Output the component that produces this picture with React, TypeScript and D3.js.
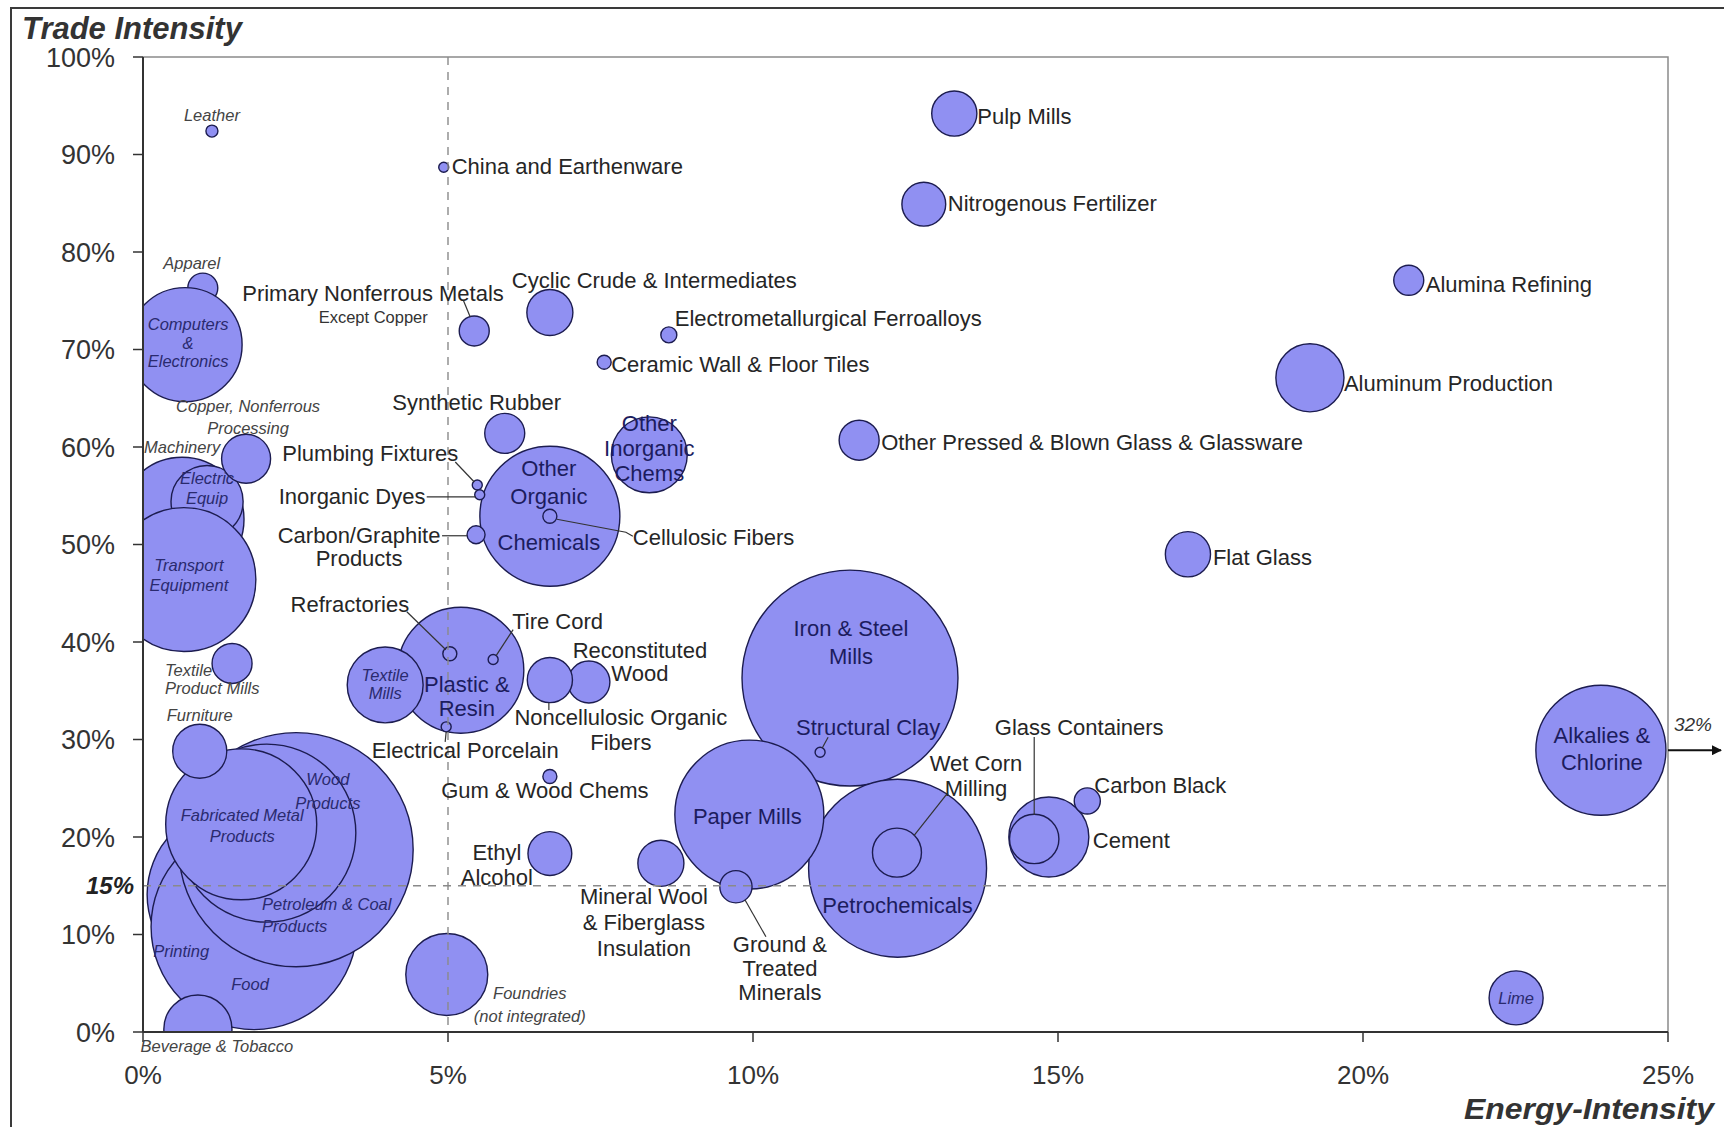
import React from 'react';
import * as d3 from 'd3';

// drawing order (back to front)
const names = [
  'Iron & Steel Mills', 'Printing', 'Food', 'Petroleum & Coal Products', 'Wood Products',
  'Petrochemicals', 'Fabricated Metal Products', 'Paper Mills', 'Machinery', 'Electric Equip',
  'Transport Equipment', 'Other Organic Chemicals', 'Alkalies & Chlorine', 'Plastic & Resin', 'Apparel',
  'Computers & Electronics', 'Foundries', 'Cement', 'Other Inorganic Chems', 'Textile Mills',
  'Aluminum Production', 'Beverage & Tobacco', 'Furniture', 'Lime', 'Copper, Nonferrous Processing',
  'Glass Containers', 'Wet Corn Milling', 'Cyclic Crude & Intermediates', 'Mineral Wool & Fiberglass Insulation', 'Pulp Mills',
  'Nitrogenous Fertilizer', 'Flat Glass', 'Reconstituted Wood', 'Noncellulosic Organic Fibers', 'Ethyl Alcohol',
  'Synthetic Rubber', 'Other Pressed & Blown Glass & Glassware', 'Textile Product Mills', 'Ground & Treated Minerals', 'Alumina Refining',
  'Primary Nonferrous Metals Except Copper', 'Carbon Black', 'Carbon/Graphite Products', 'Electrometallurgical Ferroalloys', 'Ceramic Wall & Floor Tiles',
  'Cellulosic Fibers', 'Refractories', 'Gum & Wood Chems', 'Leather', 'China and Earthenware',
  'Plumbing Fixtures', 'Inorganic Dyes', 'Tire Cord', 'Electrical Porcelain', 'Structural Clay',
];

// energy intensity (%)
const energy = [
  11.59, 1.51, 1.82, 2.51, 2.03,
  12.37, 1.61, 9.94, 0.64, 1.05,
  0.67, 6.67, 23.9, 5.21, 0.98,
  0.69, 4.98, 14.85, 8.3, 3.97,
  19.13, 0.9, 0.93, 22.51, 1.69,
  14.61, 12.36, 6.67, 8.49, 13.3,
  12.8, 17.13, 7.31, 6.67, 6.67,
  5.93, 11.74, 1.46, 9.72, 20.75,
  5.43, 15.48, 5.46, 8.62, 7.56,
  6.67, 5.03, 6.67, 1.13, 4.93,
  5.48, 5.52, 5.74, 4.97, 11.1,
];

// trade intensity (%)
const trade = [
  36.3, 14.1, 10.8, 18.7, 20.4,
  16.8, 21.3, 22.3, 52.6, 54.4,
  46.4, 52.9, 28.9, 37.1, 76.3,
  70.5, 5.9, 20.0, 59.2, 35.6,
  67.1, 0.3, 28.8, 3.5, 58.8,
  19.8, 18.4, 73.8, 17.3, 94.2,
  84.9, 49.0, 35.9, 36.1, 18.3,
  61.4, 60.7, 37.8, 14.9, 77.1,
  71.9, 23.7, 51.0, 71.5, 68.7,
  52.9, 38.8, 26.2, 92.4, 88.7,
  56.1, 55.1, 38.2, 31.3, 28.7,
];

// bubble size (relative)
const size = [
  116.6, 77.4, 106, 137, 79.2,
  79.2, 57, 55.5, 38.4, 13,
  51.8, 49, 42.3, 39.7, 2.25,
  32.5, 16.8, 16, 14.4, 14.4,
  11.6, 11.6, 7.3, 7.3, 6,
  6.1, 6, 5.3, 5.3, 5.1,
  4.8, 5.1, 4.4, 5.1, 4.8,
  4, 4, 4, 2.6, 2.25,
  2.25, 1.7, 0.81, 0.64, 0.49,
  0.49, 0.49, 0.49, 0.36, 0.25,
  0.25, 0.25, 0.25, 0.25, 0.25,
];

const xTicks = [0, 5, 10, 15, 20, 25];
const yTicks = [0, 10, 20, 30, 40, 50, 60, 70, 80, 90, 100];
const energyThreshold = 5;
const tradeThreshold = 15;
const alkaliesActual = '32%';

type Kind = 'out' | 'in' | 'sOut' | 'sIn' | 'note';
interface Lbl {
  key: string;
  lines: string[];
  dx: number;
  dy: number;
  lh?: number;
  anchor?: 'start' | 'middle' | 'end';
  kind: Kind;
  dys?: number[];
}

// label placement, offsets in px from the bubble centre
const labels: Lbl[] = [
  {key: 'Pulp Mills', lines: ['Pulp Mills'], dx: 23, dy: 3, anchor: 'start', kind: 'out'},
  {key: 'Nitrogenous Fertilizer', lines: ['Nitrogenous Fertilizer'], dx: 24, dy: -1, anchor: 'start', kind: 'out'},
  {key: 'China and Earthenware', lines: ['China and Earthenware'], dx: 8, dy: -1, anchor: 'start', kind: 'out'},
  {key: 'Cyclic Crude & Intermediates', lines: ['Cyclic Crude & Intermediates'], dx: -38, dy: -32, anchor: 'start', kind: 'out'},
  {key: 'Primary Nonferrous Metals Except Copper', lines: ['Primary Nonferrous Metals'], dx: -232, dy: -38, anchor: 'start', kind: 'out'},
  {key: 'Primary Nonferrous Metals Except Copper', lines: ['Except Copper'], dx: -101, dy: -14, kind: 'note'},
  {key: 'Electrometallurgical Ferroalloys', lines: ['Electrometallurgical Ferroalloys'], dx: 6, dy: -17, anchor: 'start', kind: 'out'},
  {key: 'Ceramic Wall & Floor Tiles', lines: ['Ceramic Wall & Floor Tiles'], dx: 7, dy: 2, anchor: 'start', kind: 'out'},
  {key: 'Alumina Refining', lines: ['Alumina Refining'], dx: 17, dy: 4, anchor: 'start', kind: 'out'},
  {key: 'Aluminum Production', lines: ['Aluminum Production'], dx: 34, dy: 6, anchor: 'start', kind: 'out'},
  {key: 'Other Pressed & Blown Glass & Glassware', lines: ['Other Pressed & Blown Glass & Glassware'], dx: 22, dy: 2, anchor: 'start', kind: 'out'},
  {key: 'Flat Glass', lines: ['Flat Glass'], dx: 25, dy: 3, anchor: 'start', kind: 'out'},
  {key: 'Synthetic Rubber', lines: ['Synthetic Rubber'], dx: -28, dy: -31, kind: 'out'},
  {key: 'Plumbing Fixtures', lines: ['Plumbing Fixtures'], dx: -195, dy: -32, anchor: 'start', kind: 'out'},
  {key: 'Inorganic Dyes', lines: ['Inorganic Dyes'], dx: -201, dy: 2, anchor: 'start', kind: 'out'},
  {key: 'Carbon/Graphite Products', lines: ['Carbon/Graphite', 'Products'], dx: -117, dy: 1, lh: 23, kind: 'out'},
  {key: 'Cellulosic Fibers', lines: ['Cellulosic Fibers'], dx: 83, dy: 21, anchor: 'start', kind: 'out'},
  {key: 'Refractories', lines: ['Refractories'], dx: -100, dy: -49, kind: 'out'},
  {key: 'Tire Cord', lines: ['Tire Cord'], dx: 19, dy: -38, anchor: 'start', kind: 'out'},
  {key: 'Reconstituted Wood', lines: ['Reconstituted', 'Wood'], dx: 51, dy: -32, lh: 23, kind: 'out'},
  {key: 'Noncellulosic Organic Fibers', lines: ['Noncellulosic Organic', 'Fibers'], dx: 71, dy: 37, lh: 25, kind: 'out'},
  {key: 'Electrical Porcelain', lines: ['Electrical Porcelain'], dx: 19, dy: 23, kind: 'out'},
  {key: 'Gum & Wood Chems', lines: ['Gum & Wood Chems'], dx: -5, dy: 14, kind: 'out'},
  {key: 'Ethyl Alcohol', lines: ['Ethyl', 'Alcohol'], dx: -53, dy: -1, lh: 25, kind: 'out'},
  {key: 'Mineral Wool & Fiberglass Insulation', lines: ['Mineral Wool', '& Fiberglass', 'Insulation'], dx: -17, dy: 33, lh: 26, kind: 'out'},
  {key: 'Ground & Treated Minerals', lines: ['Ground &', 'Treated', 'Minerals'], dx: 44, dy: 58, lh: 24, kind: 'out'},
  {key: 'Wet Corn Milling', lines: ['Wet Corn', 'Milling'], dx: 79, dy: -89, lh: 25, kind: 'out'},
  {key: 'Glass Containers', lines: ['Glass Containers'], dx: 45, dy: -112, kind: 'out'},
  {key: 'Carbon Black', lines: ['Carbon Black'], dx: 7, dy: -16, anchor: 'start', kind: 'out'},
  {key: 'Cement', lines: ['Cement'], dx: 44, dy: 3, anchor: 'start', kind: 'out'},

  {key: 'Other Organic Chemicals', lines: ['Other', 'Organic', 'Chemicals'], dx: -1, dy: -48, dys: [0, 28, 74], kind: 'in'},
  {key: 'Other Inorganic Chems', lines: ['Other', 'Inorganic', 'Chems'], dx: 0, dy: -32, lh: 25, kind: 'in'},
  {key: 'Plastic & Resin', lines: ['Plastic &', 'Resin'], dx: 6, dy: 14, lh: 24, kind: 'in'},
  {key: 'Iron & Steel Mills', lines: ['Iron & Steel', 'Mills'], dx: 1, dy: -50, lh: 28, kind: 'in'},
  {key: 'Structural Clay', lines: ['Structural Clay'], dx: 48, dy: -25, kind: 'in'},
  {key: 'Paper Mills', lines: ['Paper Mills'], dx: -2, dy: 2, kind: 'in'},
  {key: 'Petrochemicals', lines: ['Petrochemicals'], dx: 0, dy: 37, kind: 'in'},
  {key: 'Alkalies & Chlorine', lines: ['Alkalies &', 'Chlorine'], dx: 1, dy: -15, lh: 27, kind: 'in'},

  {key: 'Leather', lines: ['Leather'], dx: 0, dy: -16, kind: 'sOut'},
  {key: 'Apparel', lines: ['Apparel'], dx: -11, dy: -25, kind: 'sOut'},
  {key: 'Computers & Electronics', lines: ['Computers', '&', 'Electronics'], dx: 3, dy: -20, lh: 18.5, kind: 'sIn'},
  {key: 'Copper, Nonferrous Processing', lines: ['Copper, Nonferrous', 'Processing'], dx: 2, dy: -52, lh: 22, kind: 'sOut'},
  {key: 'Machinery', lines: ['Machinery'], dx: -38, dy: -72, anchor: 'start', kind: 'sOut'},
  {key: 'Electric Equip', lines: ['Electric', 'Equip'], dx: 0, dy: -23, lh: 20, kind: 'sIn'},
  {key: 'Transport Equipment', lines: ['Transport', 'Equipment'], dx: 5, dy: -14, lh: 20, kind: 'sIn'},
  {key: 'Textile Product Mills', lines: ['Textile', 'Product Mills'], dx: -67, dy: 7, lh: 18, anchor: 'start', kind: 'sOut'},
  {key: 'Textile Mills', lines: ['Textile', 'Mills'], dx: 0, dy: -10, lh: 18, kind: 'sIn'},
  {key: 'Furniture', lines: ['Furniture'], dx: 0, dy: -36, kind: 'sOut'},
  {key: 'Fabricated Metal Products', lines: ['Fabricated Metal', 'Products'], dx: 1, dy: -9, lh: 21, kind: 'sIn'},
  {key: 'Wood Products', lines: ['Wood', 'Products'], dx: 61, dy: -54, lh: 24, kind: 'sIn'},
  {key: 'Petroleum & Coal Products', lines: ['Petroleum & Coal', 'Products'], dx: -34, dy: 55, lh: 22, anchor: 'start', kind: 'sIn'},
  {key: 'Printing', lines: ['Printing'], dx: -54, dy: 57, kind: 'sIn'},
  {key: 'Food', lines: ['Food'], dx: -4, dy: 58, kind: 'sIn'},
  {key: 'Beverage & Tobacco', lines: ['Beverage & Tobacco'], dx: 19, dy: 17, kind: 'sOut'},
  {key: 'Foundries', lines: ['Foundries', '(not integrated)'], dx: 83, dy: 19, lh: 23, kind: 'sOut'},
  {key: 'Lime', lines: ['Lime'], dx: 0, dy: 0, kind: 'sIn'},
];

// leader lines, px offsets from the bubble centre
const leaders: { key: string; pts: [number, number][] }[] = [
  {key: 'Primary Nonferrous Metals Except Copper', pts: [[-11, -31], [-4, -14]]},
  {key: 'Plumbing Fixtures', pts: [[-22, -23], [-3, -3]]},
  {key: 'Inorganic Dyes', pts: [[-53, 2], [-4, 2]]},
  {key: 'Carbon/Graphite Products', pts: [[-34, 1], [-9, 1]]},
  {key: 'Cellulosic Fibers', pts: [[7, 3], [76, 16], [83, 20]]},
  {key: 'Refractories', pts: [[-43, -42], [-4, -4]]},
  {key: 'Tire Cord', pts: [[20, -30], [3, -4]]},
  {key: 'Noncellulosic Organic Fibers', pts: [[-1, 23], [-1, 30]]},
  {key: 'Electrical Porcelain', pts: [[0, 5], [-1, 15]]},
  {key: 'Ground & Treated Minerals', pts: [[9, 13], [30, 50]]},
  {key: 'Wet Corn Milling', pts: [[51, -60], [17, -17]]},
  {key: 'Glass Containers', pts: [[0, -102], [0, -24]]},
  {key: 'Structural Clay', pts: [[8, -15], [2, -4]]},
];

const FONT = '"Liberation Sans", Arial, Helvetica, sans-serif';
const kindStyle: Record<Kind, { size: number; fill: string; italic: boolean }> = {
  out: {size: 22, fill: '#262626', italic: false},
  in: {size: 22, fill: '#1c1c5e', italic: false},
  sOut: {size: 16.5, fill: '#444444', italic: true},
  sIn: {size: 16.5, fill: '#2a2a6e', italic: true},
  note: {size: 16.5, fill: '#333333', italic: false},
};

const W = 1724;
const H = 1127;

const App: React.FC = () => {
  const x = d3.scaleLinear().domain([0, 25]).range([143, 1668]);
  const y = d3.scaleLinear().domain([0, 100]).range([1032, 57]);
  const r = d3.scaleSqrt().domain([0, 100]).range([0, 100]);

  const [x0, x1] = x.range();
  const [y0, y1] = y.range();

  const centre = (key: string): [number, number] => {
    const i = names.indexOf(key);
    return [x(energy[i]), y(trade[i])];
  };

  const alkI = names.indexOf('Alkalies & Chlorine');
  const alkY = y(trade[alkI]);

  return (
    <div style={{position: 'absolute', left: 0, top: 0}}>
      <svg width={W} height={H} style={{display: 'block', background: '#fff'}} fontFamily={FONT}>
        <defs>
          <clipPath id="plotClip">
            <rect x={x0} y={y1} width={x1 - x0} height={y0 - y1}/>
          </clipPath>
          <marker id="arrowHead" viewBox="0 0 10 10" refX="9" refY="5" markerWidth="5" markerHeight="5" orient="auto">
            <path d="M0,0 L10,5 L0,10 z" fill="#111"/>
          </marker>
        </defs>

        {/* outer frame */}
        <path d={`M11,${H} L11,8 L${W},8`} fill="none" stroke="#3a3a3a" strokeWidth={2}/>

        {/* plot border (top / right) */}
        <path d={`M${x0},${y1} L${x1},${y1} L${x1},${y0}`} fill="none" stroke="#8a8a8a" strokeWidth={1.5}/>

        {/* bubbles */}
        <g clipPath="url(#plotClip)">
          {names.map((n, i) => (
            <circle key={n} cx={x(energy[i])} cy={y(trade[i])} r={r(size[i])}
                    fill="#9090F2" stroke="#1c1c50" strokeWidth={1.4}/>
          ))}
        </g>

        {/* threshold lines */}
        <line x1={x(energyThreshold)} x2={x(energyThreshold)} y1={y1} y2={y0}
              stroke="#8a8a8a" strokeWidth={1.4} strokeDasharray="8,7"/>
        <line x1={x0} x2={x1} y1={y(tradeThreshold)} y2={y(tradeThreshold)}
              stroke="#8a8a8a" strokeWidth={1.4} strokeDasharray="8,7"/>

        {/* axes */}
        <line x1={x0} x2={x0} y1={y1} y2={y0} stroke="#333" strokeWidth={2}/>
        <line x1={x0} x2={x1} y1={y0} y2={y0} stroke="#333" strokeWidth={2}/>
        {yTicks.map(t => (
          <g key={'y' + t}>
            <line x1={x0 - 10} x2={x0} y1={y(t)} y2={y(t)} stroke="#333" strokeWidth={1.5}/>
            <text x={115} y={y(t)} dy="0.36em" textAnchor="end" fontSize={27} fill="#333">{t}%</text>
          </g>
        ))}
        <text x={134} y={y(tradeThreshold)} dy="0.36em" textAnchor="end" fontSize={24}
              fontWeight="bold" fontStyle="italic" fill="#222">{tradeThreshold}%</text>
        {xTicks.map(t => (
          <g key={'x' + t}>
            <line x1={x(t)} x2={x(t)} y1={y0} y2={y0 + 10} stroke="#333" strokeWidth={1.5}/>
            <text x={x(t)} y={1084} textAnchor="middle" fontSize={26} fill="#333">{t}%</text>
          </g>
        ))}

        {/* axis titles */}
        <text x={22} y={39} fontSize={31} fontWeight="bold" fontStyle="italic" fill="#333">Trade Intensity</text>
        <text x={1714} y={1119} textAnchor="end" fontSize={29} fontWeight="bold" fontStyle="italic" fill="#333"
              textLength={250} lengthAdjust="spacingAndGlyphs">Energy-Intensity</text>

        {/* leader lines */}
        {leaders.map((l, i) => {
          const [cx, cy] = centre(l.key);
          const line = d3.line<[number, number]>().x(p => cx + p[0]).y(p => cy + p[1]);
          return <path key={'ld' + i} d={line(l.pts) || ''} fill="none" stroke="#333" strokeWidth={1.2}/>;
        })}

        {/* labels */}
        {labels.map((l, i) => {
          const [cx, cy] = centre(l.key);
          const st = kindStyle[l.kind];
          const lh = l.lh ?? 22;
          return (
            <text key={'lb' + i} textAnchor={l.anchor ?? 'middle'} fontSize={st.size} fill={st.fill}
                  fontStyle={st.italic ? 'italic' : 'normal'}>
              {l.lines.map((s, j) => (
                <tspan key={j} x={cx + l.dx} y={cy + l.dy + (l.dys ? l.dys[j] : j * lh)} dy="0.35em">{s}</tspan>
              ))}
            </text>
          );
        })}

        {/* off-scale marker for Alkalies & Chlorine */}
        <line x1={x1} x2={1721} y1={alkY} y2={alkY} stroke="#111" strokeWidth={2} markerEnd="url(#arrowHead)"/>
        <text x={1693} y={alkY - 19} textAnchor="middle" fontSize={19} fontStyle="italic" fill="#333">{alkaliesActual}</text>
      </svg>
    </div>
  );
};

export default App;
